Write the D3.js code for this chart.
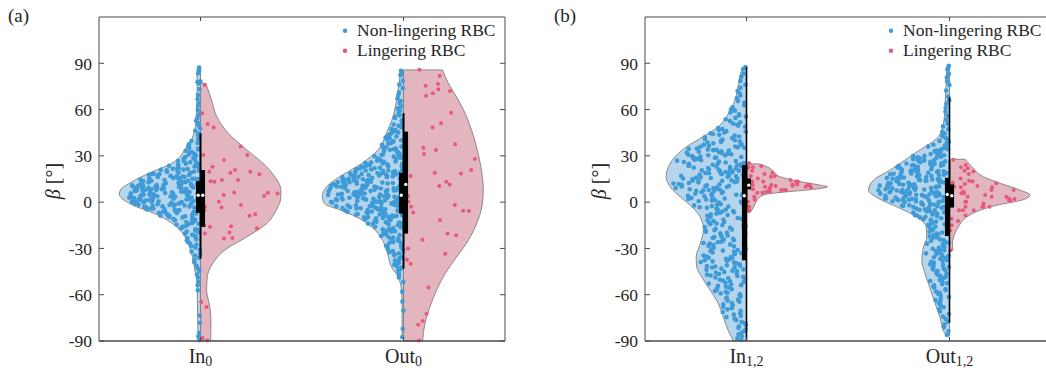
<!DOCTYPE html>
<html><head><meta charset="utf-8">
<script src="https://cdn.jsdelivr.net/npm/d3@7"></script>
<style>
body{margin:0;background:#fff}
svg{display:block}
text{font-family:"Liberation Serif","Times New Roman",serif;fill:#262626}
</style></head>
<body><svg id="chart" width="1046" height="373"></svg>
<script>
// ---------- labels ----------
const panelLabels = ["(a)", "(b)"];
const catMainA = ["In", "Out"], catSubA = ["0", "0"];
const catMainB = ["In", "Out"], catSubB = ["1,2", "1,2"];
const yTicks = [-90, -60, -30, 0, 30, 60, 90];
const legendLabels = ["Non-lingering RBC", "Lingering RBC"];

// ---------- violin half-width profiles [beta, half width in category units] ----------
const profIn0Blue = [[88,0.012],[84,0.018],[77,0.016],[66,0.018],[56,0.020],[43,0.036],[34,0.077],[25,0.143],[19,0.25],[13,0.34],[8,0.394],[5,0.40],[1,0.373],[-3,0.315],[-7,0.233],[-12,0.159],[-18,0.102],[-27,0.061],[-36,0.039],[-44,0.028],[-53,0.016],[-66,0.015],[-90,0.012]];
const profIn0Red = [[77,0.026],[66.5,0.054],[55.7,0.079],[44.8,0.136],[34,0.227],[25,0.309],[16.5,0.366],[7.8,0.396],[3.5,0.396],[-5,0.374],[-14,0.325],[-22.6,0.227],[-31,0.120],[-40,0.059],[-48.7,0.033],[-57,0.030],[-66,0.043],[-75,0.051],[-83.5,0.051],[-90,0.049]];
const profOut0Blue = [[85,0.014],[77.4,0.021],[66.5,0.034],[55.7,0.051],[44.8,0.084],[34,0.125],[25,0.207],[16.5,0.314],[10,0.379],[3.5,0.40],[-1,0.388],[-5,0.314],[-9.6,0.232],[-16,0.158],[-24.8,0.103],[-31,0.084],[-42,0.059],[-48.7,0.026],[-57,0.010],[-66,0.007],[-88,0.007]];
const profOut0Red = [[85.7,0.192],[77.4,0.220],[66.5,0.269],[55.7,0.310],[44.8,0.340],[34,0.363],[23,0.381],[7.8,0.393],[-3,0.386],[-14,0.360],[-24.8,0.319],[-35.7,0.261],[-46.5,0.204],[-57,0.163],[-68,0.130],[-79,0.105],[-90,0.094]];
const profIn12Blue = [[88,0.012],[85,0.025],[77.4,0.039],[66.5,0.056],[55.7,0.097],[49,0.138],[42.6,0.212],[36,0.294],[29.6,0.351],[23,0.384],[16.5,0.396],[10,0.376],[3.5,0.327],[-3,0.269],[-9.6,0.228],[-18,0.212],[-27,0.228],[-35.7,0.248],[-42,0.245],[-48.7,0.220],[-57,0.179],[-66,0.138],[-75,0.113],[-83.5,0.089],[-90,0.064]];
const profIn12Red = [[24.8,0.059],[23,0.100],[19.8,0.133],[16.5,0.166],[13.3,0.264],[11,0.363],[10,0.399],[8.3,0.330],[6.7,0.199],[5.2,0.100],[2.4,0.059],[-1,0.043],[-5.2,0.026],[-6.3,0.02]];
const profOut12Blue = [[88.7,0.010],[85,0.014],[77.4,0.016],[66.5,0.021],[55.7,0.025],[47,0.038],[42.6,0.054],[38,0.095],[34,0.144],[27.4,0.218],[20.9,0.292],[14.3,0.374],[7.8,0.399],[2.4,0.350],[-3,0.260],[-9.6,0.161],[-16,0.115],[-22.6,0.112],[-29,0.128],[-37.8,0.136],[-46.5,0.120],[-53,0.103],[-66,0.070],[-75,0.046],[-83.5,0.030],[-86.7,0.013]];
const profOut12Red = [[27.8,0.077],[23,0.110],[16.5,0.167],[12.2,0.250],[7.8,0.348],[4.6,0.397],[1.3,0.356],[-2,0.233],[-5.2,0.151],[-9.6,0.085],[-16,0.044],[-22.6,0.020],[-27,0.015],[-31.3,0.016]];

// ---------- box statistics [whiskerLow, q1, median, q3, whiskerHigh] ----------
const boxIn0Blue = [-36.6, -6.9, 4.5, 13.6, 44.6];
const boxIn0Red = [-36.6, -16.0, 4.5, 20.8, 44.6];
const boxOut0Blue = [-43.0, -7.4, 4.5, 19.0, 57.6];
const boxOut0Red = [-43.0, -20.4, 11.5, 45.7, 57.6];
const boxIn12Blue = [-90.0, -37.7, 4.1, 24.0, 87.5];
const boxIn12Red = [-5.0, 8.3, 11.0, 15.4, 24.0];
const boxOut12Blue = [-78.0, -22.0, 5.0, 15.8, 68.0];
const boxOut12Red = [-3.5, -3.5, 4.1, 11.5, 27.0];

// ---------- individual cells: beta angles [deg] ----------
const ptsIn0Blue = [87.2,86.1,84.6,83.5,78.4,77.8,76.9,73.2,69.5,66.8,64.1,62.7,59.8,57.6,55.9,54.2,52.8,51.1,49.7,47.9,46.3,44.6,43.2,42.1,40.8,39.6,38.3,37.5,36.1,35.2,
34.8,34.1,33.3,32.6,32.2,31.4,30.9,30.3,29.7,29.2,28.5,28.1,27.6,26.8,26.5,25.9,25.6,25.1,24.9,24.4,24.2,23.6,23.3,23.1,22.7,22.2,22.0,21.6,21.5,21.1,20.9,20.6,20.4,20.1,
19.9,19.7,19.2,19.0,18.9,18.4,18.2,18.1,17.7,17.6,17.2,17.0,16.9,16.6,16.3,16.2,15.8,15.7,15.6,15.4,15.2,15.1,
14.9,14.8,14.5,14.4,14.1,13.9,13.8,13.6,13.3,13.2,13.0,12.8,12.7,12.4,12.3,12.0,11.9,11.7,11.5,11.3,11.1,11.0,10.9,10.7,10.6,10.4,10.2,10.1,
9.9,9.8,9.6,9.5,9.3,9.2,9.0,8.9,8.8,8.6,8.4,8.3,8.1,8.0,7.9,7.7,7.6,7.4,7.3,7.1,6.9,6.8,6.6,6.5,6.3,6.2,6.0,5.8,5.7,5.5,5.3,5.1,
4.9,4.8,4.6,4.4,4.3,4.1,4.0,3.8,3.7,3.5,3.3,3.2,3.0,2.9,2.7,2.5,2.4,2.2,2.1,1.9,1.7,1.6,1.4,1.3,1.1,0.9,0.8,0.6,0.5,0.3,0.2,0.0,
-0.2,-0.4,-0.6,-0.8,-1.0,-1.2,-1.4,-1.5,-1.7,-1.9,-2.1,-2.3,-2.5,-2.7,-2.9,-3.1,-3.3,-3.5,-3.7,-3.9,-4.1,-4.2,-4.4,-4.6,-4.8,-4.9,
-5.2,-5.5,-5.8,-6.0,-6.3,-6.6,-6.9,-7.1,-7.4,-7.7,-8.0,-8.3,-8.5,-8.8,-9.1,-9.3,-9.6,-9.9,
-10.3,-10.7,-11.0,-11.4,-11.8,-12.2,-12.5,-12.9,-13.3,-13.6,-14.0,-14.3,-14.7,-15.3,-15.8,-16.4,-16.9,-17.5,-18.0,-18.6,-19.1,-19.7,
-20.4,-21.1,-21.9,-22.6,-23.2,-24.0,-24.7,-25.6,-26.6,-27.5,-28.5,-29.4,-30.9,-32.1,-33.4,-34.6,-36.0,-37.5,-38.9,
-41.3,-43.1,-44.7,-46.9,-48.8,-51.6,-53.8,-57.1,-73.5,-78.2,-84.8,-86.9,-88.6,-89.5];
const ptsIn0Red = [76.0,57.6,50.7,48.3,36.0,30.5,30.5,27.3,23.0,20.8,19.7,19.7,19.1,18.0,14.3,14.3,13.6,13.2,6.3,6.1,5.6,4.6,4.1,0.2,-1.9,-3.0,-3.5,-5.2,-7.8,-8.9,-15.0,-15.6,-16.0,-17.0,-19.7,-20.4,-23.2,-23.6,-64.8,-68.0,-88.0,-89.7];

const ptsOut0Blue = [85.1,83.4,82.2,78.6,76.2,73.8,71.1,69.4,67.2,65.5,64.3,62.1,60.6,59.2,57.8,56.3,55.4,54.6,53.1,52.2,51.0,50.3,49.5,48.6,47.4,46.8,45.9,45.2,
44.7,44.0,43.3,42.5,41.9,41.4,40.6,40.1,39.6,39.0,38.4,37.9,37.1,36.6,36.0,35.5,35.1,34.8,34.3,33.9,33.2,32.8,32.4,31.8,31.5,30.9,30.6,30.2,
29.8,29.5,29.1,28.7,28.2,27.9,27.5,27.1,26.8,26.4,26.1,25.7,25.4,25.1,24.8,24.6,24.3,24.0,23.7,23.4,23.2,22.9,22.6,22.3,22.0,21.8,21.5,21.2,21.0,20.7,20.5,20.3,20.1,
19.9,19.7,19.5,19.3,19.1,18.9,18.7,18.5,18.3,18.1,17.9,17.7,17.5,17.3,17.1,16.9,16.7,16.5,16.3,16.1,15.9,15.7,15.5,15.3,15.1,
14.9,14.8,14.6,14.4,14.3,14.1,13.9,13.8,13.6,13.4,13.2,13.1,12.9,12.7,12.6,12.4,12.2,12.1,11.9,11.7,11.6,11.4,11.2,11.1,10.9,10.7,10.6,10.4,10.2,10.1,
9.9,9.7,9.6,9.4,9.3,9.1,8.9,8.8,8.6,8.5,8.3,8.1,8.0,7.8,7.7,7.5,7.3,7.2,7.0,6.9,6.7,6.5,6.4,6.2,6.1,5.9,5.7,5.6,5.4,5.3,5.1,5.0,
4.9,4.7,4.6,4.4,4.3,4.1,3.9,3.8,3.6,3.5,3.3,3.2,3.0,2.8,2.7,2.5,2.4,2.2,2.0,1.9,1.7,1.6,1.4,1.2,1.1,0.9,0.8,0.6,0.4,0.3,0.2,0.1,0.0,
-0.2,-0.3,-0.5,-0.7,-0.8,-1.0,-1.2,-1.4,-1.5,-1.7,-1.9,-2.0,-2.2,-2.4,-2.6,-2.7,-2.9,-3.1,-3.3,-3.4,-3.6,-3.8,-4.0,-4.1,-4.3,-4.5,-4.6,-4.8,-4.9,
-5.2,-5.4,-5.6,-5.9,-6.1,-6.3,-6.6,-6.8,-7.0,-7.3,-7.5,-7.7,-8.0,-8.2,-8.4,-8.7,-8.9,-9.1,-9.3,-9.5,-9.7,-9.9,
-10.2,-10.5,-10.8,-11.1,-11.4,-11.8,-12.1,-12.4,-12.7,-13.0,-13.3,-13.6,-13.9,-14.2,-14.5,-14.8,
-15.2,-15.6,-16.0,-16.4,-16.8,-17.2,-17.6,-18.0,-18.4,-18.8,-19.2,-19.6,-20.3,-20.8,-21.4,-21.9,-22.5,-23.0,-23.6,-24.1,-24.7,
-25.3,-25.9,-26.5,-27.2,-27.8,-28.4,-29.0,-29.6,-30.3,-31.0,-31.7,-32.4,-33.1,-33.8,-34.5,-35.4,-36.2,-37.0,-37.9,-38.7,-39.5,
-40.5,-41.5,-42.4,-43.4,-44.3,-45.6,-47.2,-48.8,-51.7,-58.0,-64.5,-70.3,-82.1,-87.4];
const ptsOut0Red = [85.8,81.9,76.5,75.4,73.2,72.1,70.6,68.9,58.0,51.1,48.3,37.5,35.3,33.8,31.2,27.9,20.8,19.1,18.6,16.9,13.2,11.5,10.4,3.9,0.2,-1.9,-3.0,-5.6,-5.8,-6.7,-11.7,-20.4,-21.4,-24.3,-30.1,-33.4,-37.3,-39.9,-55.4,-72.3,-77.1,-79.5,-89.7];

const ptsIn12Blue = [87.6,86.3,83.4,81.2,78.5,76.1,74.2,72.0,70.6,69.1,67.3,65.6,64.4,62.8,61.5,60.2,59.3,58.1,57.0,56.2,55.4,54.6,53.7,52.5,51.8,50.9,50.2,
49.6,48.9,48.1,47.4,46.8,46.0,45.6,45.1,44.7,44.2,43.6,43.1,42.5,42.0,41.6,41.0,40.5,40.1,
39.8,39.3,38.6,38.2,37.7,37.4,36.9,36.5,36.1,35.8,35.5,35.3,39.0,37.1,
34.8,34.5,34.1,33.7,33.4,33.0,32.7,32.3,32.0,31.7,31.3,31.0,30.7,30.4,30.2,33.9,
29.9,29.6,29.3,29.0,28.7,28.4,28.1,27.8,27.5,27.2,26.9,26.6,26.3,26.0,25.7,25.4,25.2,28.9,
24.8,24.5,24.2,23.9,23.6,23.3,23.0,22.7,22.4,22.1,21.8,21.5,21.2,20.9,20.6,20.4,20.1,23.8,
19.8,19.5,19.3,19.0,18.7,18.4,18.1,17.8,17.6,17.3,17.0,16.7,16.4,16.2,15.9,15.6,15.3,15.1,18.9,
14.8,14.5,14.2,13.9,13.6,13.3,13.0,12.7,12.4,12.1,11.8,11.5,11.2,10.9,10.6,10.3,10.1,13.8,
9.8,9.5,9.2,8.9,8.6,8.2,7.9,7.6,7.3,7.0,6.7,6.4,6.0,5.7,5.4,5.1,8.4,
4.8,4.5,4.1,3.8,3.4,3.1,2.7,2.4,2.0,1.7,1.3,1.0,0.6,0.3,3.6,
-0.2,-0.6,-0.9,-1.3,-1.7,-2.1,-2.5,-2.9,-3.3,-3.7,-4.1,-4.5,-4.8,
-5.2,-5.7,-6.1,-6.6,-7.0,-7.5,-7.9,-8.4,-8.8,-9.3,-9.7,
-10.3,-10.8,-11.3,-11.8,-12.3,-12.8,-13.3,-13.8,-14.3,-14.8,
-15.2,-15.7,-16.2,-16.7,-17.2,-17.7,-18.2,-18.7,-19.2,-19.7,
-20.2,-20.7,-21.2,-21.7,-22.2,-22.7,-23.2,-23.7,-24.2,-24.7,
-25.1,-25.6,-26.0,-26.5,-26.9,-27.4,-27.8,-28.3,-28.7,-29.2,-29.6,
-30.2,-30.6,-31.0,-31.4,-31.8,-32.2,-32.6,-33.0,-33.4,-33.8,-34.2,-34.6,
-35.2,-35.6,-36.0,-36.4,-36.8,-37.2,-37.6,-38.0,-38.4,-38.8,-39.2,-39.6,
-40.3,-40.9,-41.2,-41.7,-42.3,-42.4,-43.1,-43.6,-43.8,-44.4,-44.9,-41.5,
-45.2,-45.7,-46.1,-46.6,-47.0,-47.5,-47.9,-48.4,-48.8,-49.3,-49.7,
-50.3,-50.8,-51.3,-51.8,-52.3,-52.8,-53.3,-53.8,-54.3,-54.8,
-55.3,-55.9,-56.4,-57.0,-57.6,-58.1,-58.7,-59.2,-59.8,
-60.4,-61.1,-61.8,-62.5,-63.2,-63.9,-64.6,-65.4,-66.2,-67.0,-67.9,-68.7,-69.5,
-70.4,-71.2,-72.0,-72.9,-73.7,-74.5,-75.5,-76.5,-77.5,-78.5,-79.5,
-80.5,-81.5,-82.5,-83.5,-84.5,-85.6,-86.9,-88.2,-89.4];
const ptsIn12Red = [25.2,23.5,22.6,22.6,22.0,20.4,19.1,18.3,17.0,17.0,16.5,15.4,14.3,13.3,13.3,13.3,13.3,12.2,11.5,11.5,11.5,11.1,11.1,11.1,10.7,10.4,10.0,10.0,9.6,9.3,8.5,8.3,7.8,7.8,7.8,6.7,6.7,6.1,6.1,3.5,1.7,0.2,-3.0,-5.2,-5.7];

const ptsOut12Blue = [88.4,87.0,85.9,83.1,80.7,78.2,76.0,72.4,68.5,66.1,63.8,61.2,58.6,56.0,53.4,50.9,49.1,47.3,45.6,44.5,43.4,42.6,41.5,40.4,
39.7,39.1,38.5,37.8,37.2,36.7,36.0,35.6,35.1,
34.7,34.3,33.8,33.4,32.9,32.5,32.0,31.6,31.2,30.8,30.4,30.1,
29.8,29.5,29.1,28.8,28.5,28.1,27.8,27.5,27.1,26.8,26.5,26.1,25.8,25.5,25.2,25.0,
24.8,24.6,24.3,24.1,23.8,23.6,23.4,23.1,22.9,22.6,22.4,22.1,21.9,21.7,21.4,21.2,20.9,20.7,20.5,20.2,20.0,
19.8,19.6,19.4,19.2,19.0,18.8,18.6,18.4,18.2,18.0,17.8,17.6,17.4,17.2,17.0,16.8,16.6,16.4,16.2,16.0,15.8,15.6,15.4,15.2,15.0,
14.8,14.6,14.5,14.3,14.1,13.9,13.7,13.6,13.4,13.2,13.0,12.9,12.7,12.5,12.3,12.1,12.0,11.8,11.6,11.4,11.2,11.1,10.9,10.7,10.5,10.3,10.2,10.0,
9.8,9.7,9.5,9.3,9.1,8.9,8.8,8.6,8.4,8.2,8.0,7.9,7.7,7.5,7.3,7.1,7.0,6.8,6.6,6.4,6.2,6.1,5.9,5.7,5.5,5.3,5.2,5.0,
4.8,4.6,4.4,4.2,4.1,3.9,3.7,3.5,3.3,3.1,2.9,2.7,2.5,2.3,2.1,1.9,1.7,1.5,1.3,1.2,1.0,0.8,0.6,0.4,0.2,0.0,
-0.2,-0.5,-0.7,-1.0,-1.2,-1.5,-1.7,-2.0,-2.2,-2.5,-2.7,-3.0,-3.2,-3.5,-3.7,-4.0,-4.2,-4.5,-4.7,-4.9,
-5.3,-5.7,-6.1,-6.5,-6.8,-7.2,-7.6,-8.0,-8.4,-8.7,-9.1,-9.5,-9.9,
-10.4,-11.0,-11.5,-12.1,-12.6,-13.2,-13.7,-14.3,-14.8,
-15.3,-15.9,-16.6,-17.2,-17.8,-18.4,-19.1,-19.7,
-20.3,-20.9,-21.5,-22.2,-22.8,-23.4,-24.1,-24.7,
-25.2,-25.8,-26.3,-26.9,-27.4,-28.0,-28.5,-29.1,-29.6,
-30.2,-30.7,-31.2,-31.7,-32.2,-32.7,-33.2,-33.7,-34.2,-34.7,
-35.2,-35.7,-36.2,-36.7,-37.2,-37.7,-38.2,-38.7,-39.2,-39.7,
-40.3,-40.8,-41.4,-41.9,-42.5,-43.0,-43.6,-44.1,-44.7,
-45.3,-45.9,-46.5,-47.1,-47.8,-48.4,-49.0,-49.6,
-50.4,-51.1,-51.8,-52.5,-53.2,-53.9,-54.6,
-55.4,-56.3,-57.1,-58.0,-58.8,-59.6,
-60.5,-61.5,-62.5,-63.5,-64.5,-65.6,-66.9,-68.1,-69.4,
-70.8,-72.5,-74.2,-75.8,-77.5,-79.2,-81.0,-83.5,-86.0];
const ptsOut12Red = [27.4,24.1,22.6,22.0,20.4,19.8,18.3,15.4,13.9,13.3,12.6,12.2,11.7,10.4,10.0,9.6,9.6,7.8,7.8,6.7,5.7,5.7,4.6,3.5,3.5,3.5,2.4,2.0,1.3,1.3,0.2,0.2,-0.9,-2.6,-3.0,-3.0,-3.0,-5.2,-5.2,-5.2,-8.5,-10.7,-12.2,-15.0,-18.3,-31.3];

// ---------- styles ----------
const BLUE = "#3f9bd7", BLUE_FILL = "#b4d5ec";
const RED = "#e8577c", RED_FILL = "#e3b5bf";
const OUTLINE = "#7f7f7f", AXIS = "#4a4a4a";

const panels = [
  { left: 99, label: "(a)", main: catMainA, sub: catSubA,
    groups: [
      { blue: [profIn0Blue, ptsIn0Blue, boxIn0Blue], red: [profIn0Red, ptsIn0Red, boxIn0Red] },
      { blue: [profOut0Blue, ptsOut0Blue, boxOut0Blue], red: [profOut0Red, ptsOut0Red, boxOut0Red] } ] },
  { left: 645, label: "(b)", main: catMainB, sub: catSubB,
    groups: [
      { blue: [profIn12Blue, ptsIn12Blue, boxIn12Blue], red: [profIn12Red, ptsIn12Red, boxIn12Red] },
      { blue: [profOut12Blue, ptsOut12Blue, boxOut12Blue], red: [profOut12Red, ptsOut12Red, boxOut12Red] } ] }
];

// deterministic horizontal scatter (layout only, no data)
function scatter01(i, s) {
  let h = Math.imul(i + 1, 374761393) ^ Math.imul(s + 7, 668265263);
  h = Math.imul(h ^ (h >>> 13), 1274126177);
  h = h ^ (h >>> 16);
  return (h >>> 0) / 4294967296;
}

const svg = d3.select("#chart");
const PW = 406, TOP = 17, BOT = 341;

panels.forEach((p, pi) => {
  const x = d3.scaleLinear().domain([0.5, 2.5]).range([p.left, p.left + PW]);
  const y = d3.scaleLinear().domain([-90, 120]).range([BOT, TOP]);
  const g = svg.append("g");

  const halves = [];
  p.groups.forEach((grp, ci) => {
    halves.push({ c: ci + 1, side: -1, prof: grp.blue[0], pts: grp.blue[1], box: grp.blue[2], col: BLUE, fill: BLUE_FILL, r: 2.3, seed: pi * 10 + ci * 2 });
    halves.push({ c: ci + 1, side: 1, prof: grp.red[0], pts: grp.red[1], box: grp.red[2], col: RED, fill: RED_FILL, r: 2.0, seed: pi * 10 + ci * 2 + 1 });
  });

  // violins
  halves.forEach(h => {
    const prof = h.prof.slice().sort((a, b) => a[0] - b[0]);
    h.wScale = d3.scaleLinear().domain(prof.map(d => d[0])).range(prof.map(d => d[1])).clamp(true);
    const area = d3.area()
      .y(d => y(d[0]))
      .x0(() => x(h.c))
      .x1(d => x(h.c + h.side * d[1]))
      .curve(d3.curveMonotoneY);
    g.append("path").attr("d", area(prof))
      .attr("fill", h.fill).attr("stroke", OUTLINE).attr("stroke-width", 0.9);
  });

  // points
  halves.forEach(h => {
    g.append("g").selectAll("circle").data(h.pts).join("circle")
      .attr("cx", (v, i) => {
        const f = scatter01(i, h.seed);
        return x(h.c + h.side * (0.02 + 0.94 * f) * h.wScale(v));
      })
      .attr("cy", v => y(v))
      .attr("r", h.r)
      .attr("fill", h.col);
  });

  // whiskers
  halves.forEach(h => {
    g.append("line").attr("x1", x(h.c)).attr("x2", x(h.c))
      .attr("y1", y(h.box[0])).attr("y2", y(h.box[4]))
      .attr("stroke", "#000").attr("stroke-width", 1.6);
  });
  // boxes
  const BW = 0.0225;
  halves.forEach(h => {
    const xa = x(h.c), xb = x(h.c + h.side * BW);
    g.append("rect").attr("x", Math.min(xa, xb)).attr("width", Math.abs(xb - xa))
      .attr("y", y(h.box[3])).attr("height", y(h.box[1]) - y(h.box[3]))
      .attr("fill", "#000");
  });
  halves.forEach(h => {
    g.append("circle").attr("cx", x(h.c + h.side * BW * 0.5)).attr("cy", y(h.box[2]))
      .attr("r", 1.7).attr("fill", "#fff");
  });

  // axes frame
  const L = p.left, R = p.left + PW;
  const ax = svg.append("g").attr("stroke", AXIS).attr("fill", "none");
  ax.append("line").attr("x1", L).attr("x2", L).attr("y1", TOP).attr("y2", BOT).attr("stroke-width", 1);
  ax.append("line").attr("x1", R).attr("x2", R).attr("y1", TOP).attr("y2", BOT).attr("stroke-width", 1);
  ax.append("line").attr("x1", L).attr("x2", R).attr("y1", TOP).attr("y2", TOP).attr("stroke-width", 1);
  ax.append("line").attr("x1", L).attr("x2", R).attr("y1", BOT).attr("y2", BOT).attr("stroke-width", 1.6);
  yTicks.forEach(t => {
    ax.append("line").attr("x1", L).attr("x2", L + 5).attr("y1", y(t)).attr("y2", y(t));
    ax.append("line").attr("x1", R).attr("x2", R - 5).attr("y1", y(t)).attr("y2", y(t));
  });
  [1, 2].forEach(c => {
    ax.append("line").attr("x1", x(c)).attr("x2", x(c)).attr("y1", TOP).attr("y2", TOP + 4);
    ax.append("line").attr("x1", x(c)).attr("x2", x(c)).attr("y1", BOT).attr("y2", BOT - 4);
  });

  // y tick labels
  svg.append("g").selectAll("text").data(yTicks).join("text")
    .attr("x", L - 7).attr("y", t => y(t) + 6.3)
    .attr("text-anchor", "end").attr("font-size", 17.5)
    .text(t => String(t));

  // x tick labels
  [1, 2].forEach((c, i) => {
    const t = svg.append("text").attr("x", x(c)).attr("y", 363).attr("text-anchor", "middle").attr("font-size", 20);
    t.append("tspan").text(p.main[i]);
    t.append("tspan").attr("font-size", 14).attr("dy", 3).text(p.sub[i]);
  });

  // y label
  const yl = svg.append("text").attr("transform", `translate(${L - 39},181) rotate(-90)`)
    .attr("text-anchor", "middle").attr("font-size", 20);
  yl.append("tspan").attr("font-style", "italic").text("β");
  yl.append("tspan").text(" [°]");

  // panel label
  svg.append("text").attr("x", L - 91).attr("y", 22).attr("font-size", 19).text(p.label);

  // legend
  [[BLUE, 30.7], [RED, 50.7]].forEach((d, i) => {
    svg.append("circle").attr("cx", L + 246).attr("cy", d[1]).attr("r", 2.2).attr("fill", d[0]);
    svg.append("text").attr("x", L + 258).attr("y", d[1] + 5.5).attr("font-size", 17.5).text(legendLabels[i]);
  });
});
</script>
</body></html>
